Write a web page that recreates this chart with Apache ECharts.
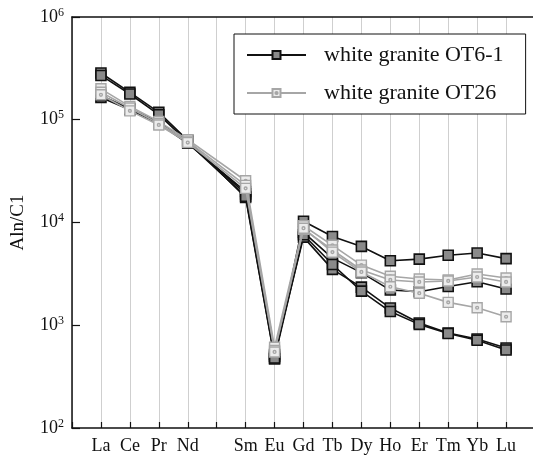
<!DOCTYPE html>
<html>
<head>
<meta charset="utf-8">
<script src="https://cdn.jsdelivr.net/npm/echarts@6/dist/echarts.min.js"></script>
<style>
  html, body { margin: 0; padding: 0; background: #fff; }
  #chart { width: 533px; height: 455px; }
</style>
</head>
<body>
<div id="chart"></div>
<script>
// Element slots along the x axis (Pm slot kept empty, plus an edge slot on the left)
const slots = ['', 'La', 'Ce', 'Pr', 'Nd', '', 'Sm', 'Eu', 'Gd', 'Tb', 'Dy', 'Ho', 'Er', 'Tm', 'Yb', 'Lu'];
// Elements that carry measurements
const elements = ['La', 'Ce', 'Pr', 'Nd', 'Sm', 'Eu', 'Gd', 'Tb', 'Dy', 'Ho', 'Er', 'Tm', 'Yb', 'Lu'];

// Chondrite-normalised allanite analyses, white granite OT6-1
const ot61_a = [285000, 185000, 118000, 63000, 17500, 470, 10300, 7300, 5850, 4250, 4400, 4800, 5050, 4450];
const ot61_b = [270000, 178000, 112000, 61000, 19000, 500, 8000, 4500, 3250, 2200, 2120, 2380, 2650, 2250];
const ot61_c = [165000, 125000, 92000, 59000, 20000, 520, 7200, 3500, 2350, 1470, 1050, 840, 735, 600];
const ot61_d = [172000, 128000, 95000, 60000, 18000, 480, 7600, 3900, 2150, 1360, 1020, 830, 715, 575];

// Chondrite-normalised allanite analyses, white granite OT26
const ot26_a = [200000, 135000, 96000, 64000, 25500, 610, 9300, 6000, 3850, 3000, 2820, 2760, 3150, 2880];
const ot26_b = [185000, 130000, 92000, 62000, 23000, 570, 8600, 5400, 3450, 2760, 2640, 2700, 2950, 2640];
const ot26_c = [175000, 122000, 89000, 60000, 21500, 550, 8800, 5150, 3300, 2370, 2050, 1670, 1480, 1210];

// Y tick exponents (10^2 .. 10^6)
const yExponents = [2, 3, 4, 5, 6];

const NAME_A = 'white granite OT6-1';
const NAME_B = 'white granite OT26';
const FONT = 'Liberation Serif';
// The plot runs on past Lu to the right edge of the page
const X_MAX = 15.93;

function toPoints(values) {
  return values.map((v, i) => [slots.indexOf(elements[i]), v]);
}

const squareDot = 'path://M0,0H10V10H0Z M5,3.6A1.4,1.4,0,1,1,4.99,3.6Z';

function blackSeries(values) {
  return {
    name: NAME_A, type: 'line', data: toPoints(values),
    symbol: 'rect', symbolSize: 10,
    lineStyle: { color: '#111', width: 1.6 },
    itemStyle: { color: '#8a8a8a', borderColor: '#111', borderWidth: 1.6 },
    z: 3
  };
}
function graySeries(values) {
  return {
    name: NAME_B, type: 'line', data: toPoints(values),
    symbol: squareDot, symbolSize: 10,
    lineStyle: { color: '#a6a6a6', width: 1.6 },
    itemStyle: { color: '#ececec', borderColor: '#a6a6a6', borderWidth: 1.4 },
    z: 4
  };
}

const chart = echarts.init(document.getElementById('chart'), null, { renderer: 'canvas' });
chart.setOption({
  animation: false,
  backgroundColor: '#fff',
  textStyle: { fontFamily: FONT, color: '#111' },
  grid: { left: 72, right: 0, top: 17, bottom: 27 },
  legend: {
    data: [NAME_A, NAME_B],
    orient: 'vertical',
    left: 234, top: 34,
    padding: [10, 22, 10, 12],
    itemGap: 16,
    itemWidth: 59, itemHeight: 10,
    backgroundColor: '#fff',
    borderColor: '#111', borderWidth: 1,
    textStyle: { fontFamily: FONT, fontSize: 22, color: '#111', padding: [0, 0, 0, 13] }
  },
  xAxis: [{
    type: 'value', min: 0, max: X_MAX, interval: 1,
    axisLine: { show: true, onZero: false, lineStyle: { color: '#111', width: 1.5 } },
    axisTick: { show: true, inside: true, length: 6, lineStyle: { color: '#111', width: 1.2 } },
    axisLabel: {
      margin: 9, fontFamily: FONT, fontSize: 18, color: '#111',
      showMinLabel: true, showMaxLabel: false,
      formatter: v => (Number.isInteger(v) && slots[v]) || ''
    },
    splitLine: { show: true, lineStyle: { color: '#cfcfcf', width: 1 } }
  }, {
    type: 'value', position: 'top', min: 0, max: X_MAX,
    axisLine: { show: true, onZero: false, lineStyle: { color: '#111', width: 1.5 } },
    axisTick: { show: false }, axisLabel: { show: false }, splitLine: { show: false }
  }],
  yAxis: {
    type: 'log', logBase: 10, min: Math.pow(10, yExponents[0]), max: Math.pow(10, yExponents[yExponents.length - 1]),
    name: 'Aln/C1', nameLocation: 'middle', nameGap: 44,
    nameTextStyle: { fontFamily: FONT, fontSize: 19, color: '#111' },
    axisLine: { show: true, lineStyle: { color: '#111', width: 1.5 } },
    axisTick: { show: true, inside: true, length: 8, lineStyle: { color: '#111', width: 1.2 } },
    splitLine: { show: false },
    minorTick: { show: false },
    axisLabel: {
      margin: 8,
      formatter: v => '{b|10}{s|' + Math.round(Math.log10(v)) + '}',
      rich: {
        b: { fontFamily: FONT, fontSize: 18, color: '#111', lineHeight: 20 },
        s: { fontFamily: FONT, fontSize: 12, color: '#111', lineHeight: 20, padding: [0, 0, 9, 0] }
      }
    }
  },
  series: [
    blackSeries(ot61_a), blackSeries(ot61_b), blackSeries(ot61_c), blackSeries(ot61_d),
    graySeries(ot26_a), graySeries(ot26_b), graySeries(ot26_c)
  ]
});
</script>
</body>
</html>
